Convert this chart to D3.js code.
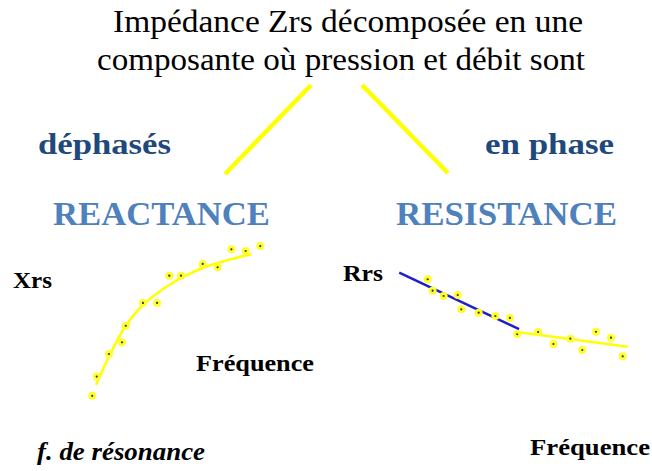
<!DOCTYPE html>
<html>
<head>
<meta charset="utf-8">
<script src="https://cdn.jsdelivr.net/npm/d3@7"></script>
<style>
  html, body { margin: 0; padding: 0; background: #ffffff; }
  svg { display: block; }
  text { font-family: "Liberation Serif", "Times New Roman", Times, serif; }
</style>
</head>
<body>
<svg id="chart" width="652" height="471"></svg>
<script>
// ---------- DATA ----------
const titleLines = ["Impédance Zrs décomposée en une", "composante où pression et débit sont"];
const phaseLabels = ["déphasés", "en phase"];
const componentLabels = ["REACTANCE", "RESISTANCE"];

// Reactance panel (arbitrary units 0-100)
const xrsPointsX = [1.3, 3.9, 11, 18.6, 20.8, 30.8, 39, 46.1, 52.9, 65.5, 74.2, 82.2, 90.5, 99];
const xrsPointsY = [2.7, 15, 29.5, 37, 47.6, 62.2, 62.2, 79.7, 79.7, 87.2, 85.1, 96.6, 95.5, 98.7];
const xrsCurveX = [3.5, 11, 20.8, 30.8, 46.1, 65.5, 94];
const xrsCurveY = [9.6, 27.8, 47.6, 60.9, 73.7, 84.6, 93.6];

// Resistance panel (arbitrary units 0-100)
const rrsPointsX = [13.9, 16.0, 20.7, 26.7, 28.2, 35.6, 42.7, 48.9, 52.0, 60.9, 67.4, 74.6, 79.7, 85.5, 91.9, 96.9];
const rrsPointsY = [89.7, 77, 71.1, 72.2, 56.3, 52.6, 48.9, 46.7, 28.6, 31.1, 17.8, 23.7, 11.1, 31.4, 24.8, 4.1];
const rrsLowFitX = [1.8, 52.8];
const rrsLowFitY = [97, 34.4];
const rrsHighFitX = [52.8, 99];
const rrsHighFitY = [30.8, 14.8];

// ---------- DRAW ----------
const svg = d3.select("#chart");
const darkBlue = "#1f497d";
const midBlue = "#4f81bd";
const yellow = "#ffff00";

// text items: text, left x, baseline y, size, width, weight, style, colour
const texts = [
  {t: titleLines[0], x: 113, y: 32, s: 31, w: 470, b: false, it: false, c: "#000"},
  {t: titleLines[1], x: 97, y: 70, s: 31, w: 488, b: false, it: false, c: "#000"},
  {t: phaseLabels[0], x: 38, y: 154, s: 30, w: 133, b: true, it: false, c: darkBlue},
  {t: phaseLabels[1], x: 485, y: 154, s: 30, w: 129, b: true, it: false, c: darkBlue},
  {t: componentLabels[0], x: 53, y: 225, s: 34.5, w: 217, b: true, it: false, c: midBlue},
  {t: componentLabels[1], x: 396, y: 225, s: 34.5, w: 221, b: true, it: false, c: midBlue},
  {t: "Xrs", x: 13, y: 288, s: 24, w: 39, b: true, it: false, c: "#000"},
  {t: "Rrs", x: 343, y: 281, s: 24, w: 40, b: true, it: false, c: "#000"},
  {t: "Fréquence", x: 196, y: 371, s: 23.5, w: 118, b: true, it: false, c: "#000"},
  {t: "Fréquence", x: 530, y: 455, s: 24, w: 120, b: true, it: false, c: "#000"},
  {t: "f. de résonance", x: 37, y: 460, s: 25, w: 168, b: true, it: true, c: "#000"}
];
svg.selectAll("text.lab").data(texts).join("text")
  .attr("class", "lab")
  .attr("x", d => d.x).attr("y", d => d.y)
  .attr("textLength", d => d.w).attr("lengthAdjust", "spacingAndGlyphs")
  .style("font-weight", d => d.b ? "bold" : "normal")
  .style("font-style", d => d.it ? "italic" : "normal")
  .style("font-size", d => d.s + "px").attr("fill", d => d.c).text(d => d.t);

// Connector lines
const conn = [[311, 85, 225, 174], [362, 85, 448, 173]];
svg.selectAll("line.conn").data(conn).join("line")
  .attr("x1", d => d[0]).attr("y1", d => d[1]).attr("x2", d => d[2]).attr("y2", d => d[3])
  .attr("stroke", yellow).attr("stroke-width", 4.5);

// Scales
const xL = d3.scaleLinear().domain([0, 100]).range([90, 262]);
const yL = d3.scaleLinear().domain([0, 100]).range([400, 244]);
const xR = d3.scaleLinear().domain([0, 100]).range([395, 630]);
const yR = d3.scaleLinear().domain([0, 100]).range([360, 270]);

// Reactance curve
const lineL = d3.line().x(d => xL(d[0])).y(d => yL(d[1])).curve(d3.curveCatmullRom.alpha(0.5));
svg.append("path").datum(d3.zip(xrsCurveX, xrsCurveY))
  .attr("d", lineL).attr("fill", "none").attr("stroke", yellow).attr("stroke-width", 2.5);

// Resistance lines
const lineR = d3.line().x(d => xR(d[0])).y(d => yR(d[1]));
svg.append("path").datum(d3.zip(rrsHighFitX, rrsHighFitY))
  .attr("d", lineR).attr("fill", "none").attr("stroke", yellow).attr("stroke-width", 2.5);
svg.append("path").datum(d3.zip(rrsLowFitX, rrsLowFitY))
  .attr("d", lineR).attr("fill", "none").attr("stroke", "#1f1fc8").attr("stroke-width", 2.5);

// Points
function drawPoints(xs, ys, sx, sy) {
  const pts = d3.zip(xs, ys);
  const g = svg.append("g");
  g.selectAll("circle.halo").data(pts).join("circle")
    .attr("cx", d => sx(d[0])).attr("cy", d => sy(d[1])).attr("r", 4)
    .attr("fill", "#ffff30");
  g.selectAll("circle.dot").data(pts).join("circle")
    .attr("cx", d => sx(d[0])).attr("cy", d => sy(d[1])).attr("r", 1.1)
    .attr("fill", "#333");
}
drawPoints(xrsPointsX, xrsPointsY, xL, yL);
drawPoints(rrsPointsX, rrsPointsY, xR, yR);
</script>
</body>
</html>
